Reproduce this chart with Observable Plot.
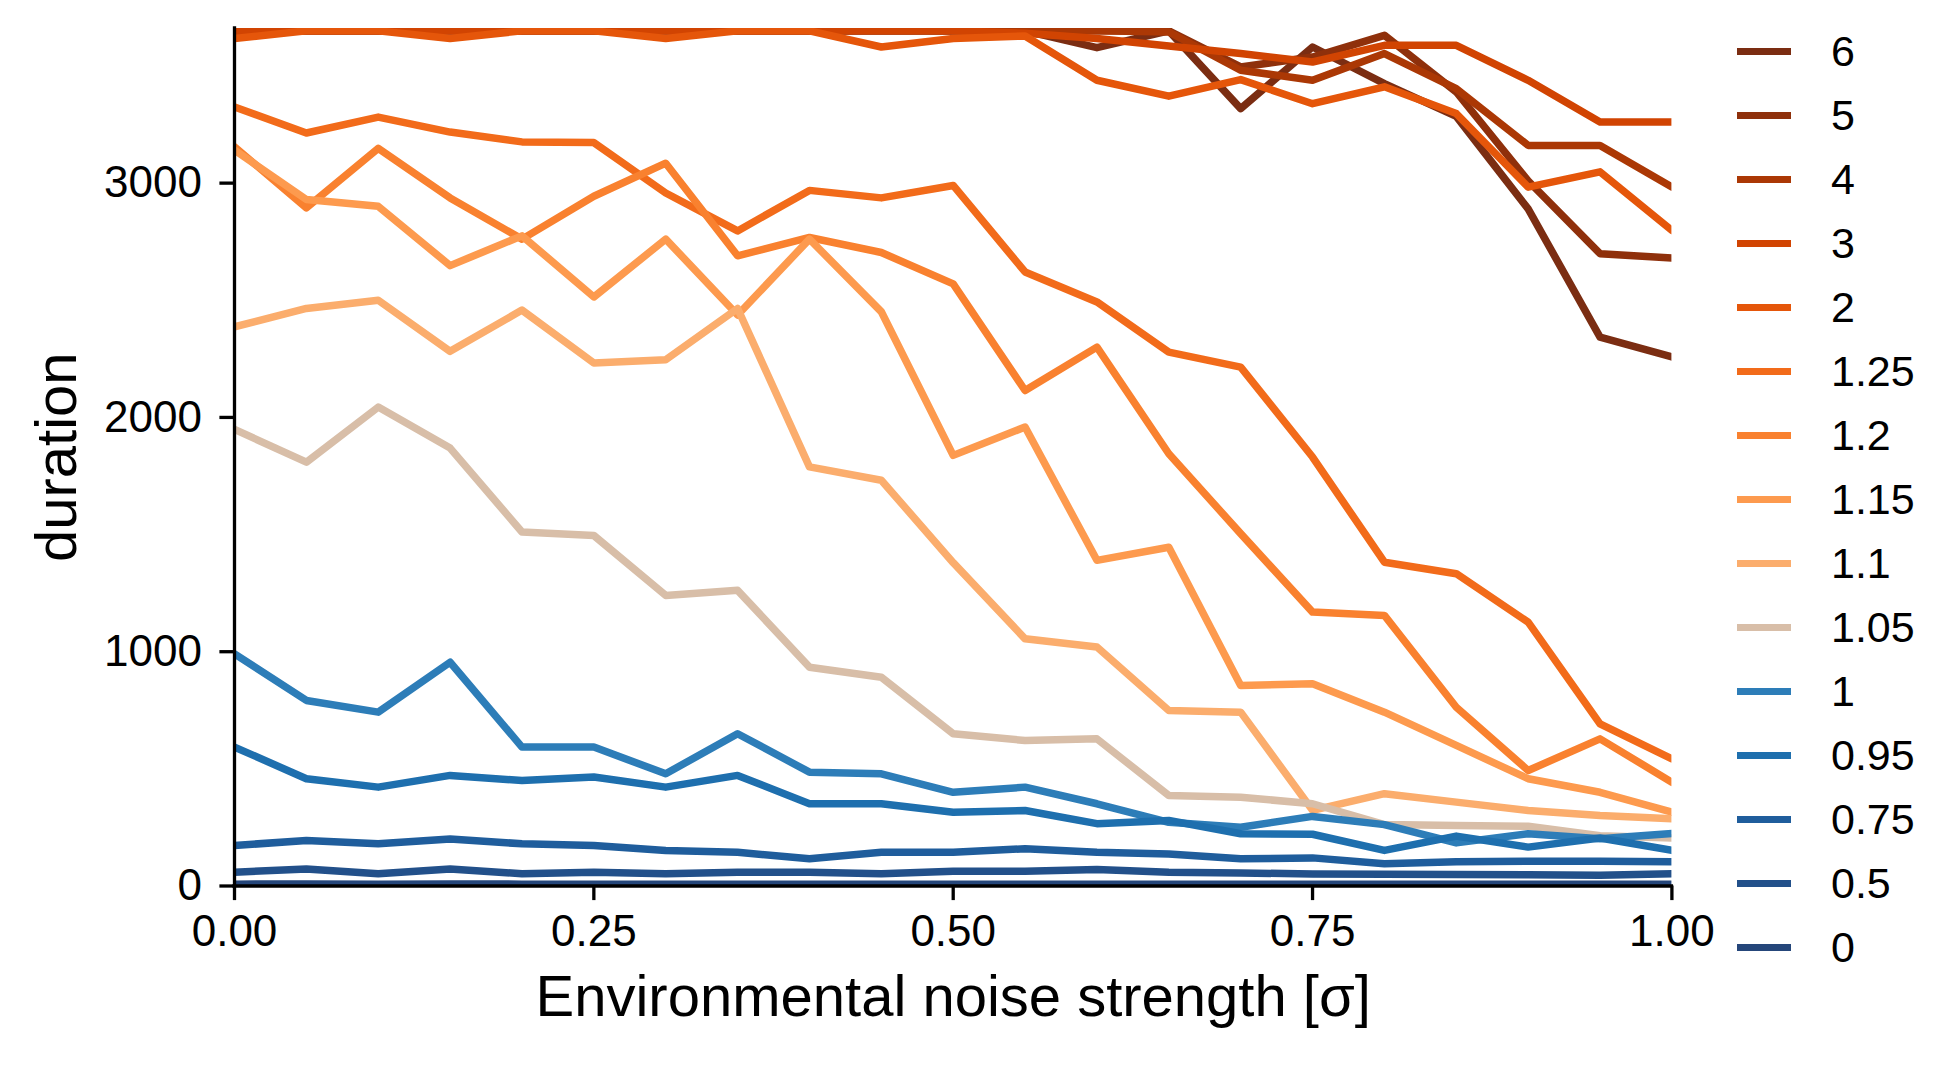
<!DOCTYPE html>
<html><head><meta charset="utf-8">
<script src="https://cdn.jsdelivr.net/npm/d3@7/dist/d3.min.js"></script>
<script src="https://cdn.jsdelivr.net/npm/@observablehq/plot@0.6/dist/plot.umd.min.js"></script>
<style>
html,body{margin:0;padding:0;background:#fff;}
#wrap{position:relative;width:1950px;height:1069px;font-family:"Liberation Sans",Arial,sans-serif;}
#legend{position:absolute;left:1737px;top:20px;}
.item{display:flex;align-items:center;height:63.96px;}
.sw{width:54px;height:7px;}
.lab{margin-left:40px;font-size:43px;color:#000;line-height:1;}
</style></head><body><div id="wrap"><div id="chart"></div><div id="legend"></div></div>
<script>
// x values: environmental noise strength
const sigma = [0, 0.05, 0.1, 0.15, 0.2, 0.25, 0.3, 0.35, 0.4, 0.45, 0.5, 0.55, 0.6, 0.65, 0.7, 0.75, 0.8, 0.85, 0.9, 0.95, 1.0];

// series labels (legend order = drawing order)
const seriesLabels = ["6", "5", "4", "3", "2", "1.25", "1.2", "1.15", "1.1", "1.05", "1", "0.95", "0.75", "0.5", "0"];

// durations per series
const d6   = [3650,3650,3650,3650,3650,3650,3650,3650,3650,3650,3650,3650,3578,3650,3318,3581,3425,3285,2890,2343,2258];
const d5   = [3650,3650,3650,3650,3650,3650,3650,3650,3650,3650,3650,3650,3650,3650,3496,3538,3631,3389,3010,2699,2680];
const d4   = [3650,3650,3650,3650,3650,3650,3650,3650,3650,3650,3650,3650,3650,3645,3482,3439,3553,3403,3161,3161,2983];
const d3   = [3650,3650,3650,3650,3650,3650,3650,3650,3650,3650,3650,3640,3617,3585,3553,3517,3588,3588,3439,3261,3261];
const d2   = [3617,3650,3650,3617,3650,3650,3617,3650,3650,3581,3617,3628,3439,3371,3442,3339,3411,3297,2983,3048,2798];
const d125 = [3325,3214,3282,3218,3176,3173,2958,2796,2969,2937,2990,2621,2493,2279,2215,1831,1382,1333,1126,692,543];
const d12  = [3155,2894,3148,2937,2761,2944,3085,2690,2768,2704,2570,2115,2300,1845,1504,1169,1155,763,493,628,443];
const d115 = [3141,2930,2901,2648,2775,2514,2761,2437,2761,2451,1838,1959,1390,1446,856,863,742,600,458,400,315];
const d11  = [2387,2465,2500,2282,2458,2232,2246,2465,1789,1732,1380,1055,1020,749,742,323,394,358,322,301,287];
const d105 = [1949,1809,2044,1869,1511,1496,1240,1262,934,891,650,621,628,386,379,351,262,258,255,215,205];
const d1   = [991,792,742,955,593,593,479,650,486,479,400,422,351,272,251,297,262,184,223,202,224];
const d095 = [593,458,422,472,450,465,422,472,351,351,315,322,266,280,223,221,152,213,166,205,152];
const d075 = [173,194,180,201,180,173,152,144,116,144,144,159,144,137,116,120,95,104,106,106,104];
const d05  = [59,73,52,73,52,59,52,59,59,52,63,63,70,59,56,51,50,49,48,46,52];
const d0   = [8,9,8,9,8,8,8,8,8,8,8,8,8,8,8,8,8,8,8,8,8];

// tick values
const xTicks = [0, 0.25, 0.5, 0.75, 1];
const yTicks = [0, 1000, 2000, 3000];

// palette
const palette = ["#7b2d12","#8f300b","#ab3805","#d14402","#e5560a","#f26b1a","#f9812f","#fd9a4e","#fbad6d","#d8bea8","#2d7db8","#1e6fae","#1f5d9c","#22508a","#25467a"];

const seriesValues = [d6, d5, d4, d3, d2, d125, d12, d115, d11, d105, d1, d095, d075, d05, d0];
const rows = [];
seriesLabels.forEach((k, j) => {
  sigma.forEach((s, i) => rows.push({k, sigma: s, duration: seriesValues[j][i]}));
});

const font = "Liberation Sans, Arial, sans-serif";
const chart = Plot.plot({
  width: 1950,
  height: 1069,
  marginLeft: 234,
  marginRight: 278.6,
  marginTop: 28,
  marginBottom: 183.5,
  style: {fontFamily: font, background: "white", color: "black", overflow: "visible"},
  x: {domain: [0, 1]},
  y: {domain: [0, 3660]},
  color: {domain: seriesLabels, range: palette},
  marks: [
    Plot.line(rows, {x: "sigma", y: "duration", z: "k", stroke: "k", strokeWidth: 7.5, strokeLinejoin: "round", clip: true}),
    Plot.axisX({ticks: xTicks, tickFormat: d => d.toFixed(2), tickSize: 14.6, tickPadding: 14, fontSize: 44, strokeWidth: 3.3, label: null}),
    Plot.axisY({ticks: yTicks, tickFormat: d => String(d), tickSize: 14.6, tickPadding: 18, fontSize: 44, strokeWidth: 3.3, label: null}),
    Plot.ruleX([0], {strokeWidth: 3.3, stroke: "black", strokeLinecap: "square"}),
    Plot.ruleY([0], {strokeWidth: 3.3, stroke: "black", strokeLinecap: "square"}),
    Plot.text(["duration"], {text: d => d, frameAnchor: "left", dx: -200, rotate: -90, textAnchor: "middle", lineAnchor: "top", fontSize: 58, fill: "black"}),
    Plot.text(["Environmental noise strength [σ]"], {text: d => d, frameAnchor: "bottom", dy: 130, textAnchor: "middle", lineAnchor: "bottom", fontSize: 58, fill: "black"})
  ]
});
document.getElementById("chart").appendChild(chart);

const legend = document.getElementById("legend");
seriesLabels.forEach((k, j) => {
  const item = document.createElement("div");
  item.className = "item";
  const sw = document.createElement("div");
  sw.className = "sw";
  sw.style.background = palette[j];
  const lab = document.createElement("span");
  lab.className = "lab";
  lab.textContent = k;
  item.appendChild(sw);
  item.appendChild(lab);
  legend.appendChild(item);
});
</script></body></html>
